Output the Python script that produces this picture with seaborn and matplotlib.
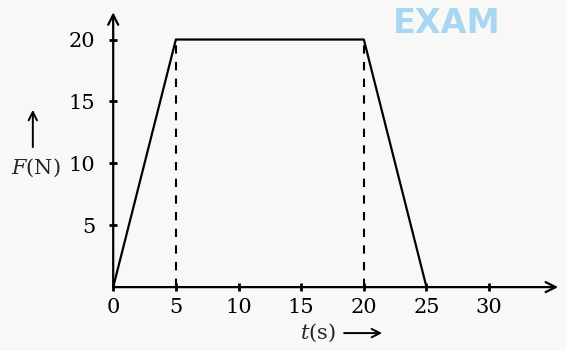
import matplotlib
matplotlib.use('Agg')
import matplotlib.pyplot as plt
import seaborn as sns
import pandas as pd

# force-time curve (trapezoid)
time_s = [0, 5, 20, 25]
force_n = [0, 20, 20, 0]
dash_t = [5, 20]
x_ticks = [0, 5, 10, 15, 20, 25, 30]
y_ticks = [5, 10, 15, 20]

sns.set_style('white')
plt.rcParams['font.family'] = ['DejaVu Serif']
plt.rcParams['mathtext.fontset'] = 'dejavuserif'

df = pd.DataFrame({'t': time_s, 'F': force_n})

fig = plt.figure(figsize=(5.66, 3.51), dpi=100, facecolor='#f8f8f7')
ax = fig.add_axes([0.2, 0.182, 0.786, 0.783])
ax.set_facecolor('none')

sns.lineplot(data=df, x='t', y='F', sort=False, color='black', lw=1.6, ax=ax)
ax.vlines(dash_t, 0, max(force_n), colors='black', linestyles=(0, (4, 4)), lw=1.5)

ax.set_xlim(0, 35.5)
ax.set_ylim(0, 22.2)
ax.set_xticks(x_ticks)
ax.set_yticks(y_ticks)
ax.set_xlabel('')
ax.set_ylabel('')
ax.tick_params(axis='both', bottom=True, left=True, direction='inout', length=6,
               width=2, labelsize=15, colors='black')
ax.tick_params(axis='x', pad=5)
ax.tick_params(axis='y', pad=10)

for s in ax.spines.values():
    s.set_visible(False)

# axes with open arrowheads
arrow = dict(arrowstyle='->', lw=1.6, color='black', mutation_scale=18, shrinkA=0, shrinkB=0)
ax.annotate('', xy=(35.5, 0), xytext=(0, 0), arrowprops=arrow, annotation_clip=False)
ax.annotate('', xy=(0, 22.2), xytext=(0, 0), arrowprops=arrow, annotation_clip=False)

# axis labels
fig.text(0.064, 0.521, '$F$(N)', fontsize=15, ha='center', va='center')
fig.patches.append(matplotlib.patches.FancyArrowPatch(
    (0.058, 0.573), (0.058, 0.695), transform=fig.transFigure,
    arrowstyle='->', lw=1.4, color='black', mutation_scale=15))
fig.text(0.530, 0.051, '$t$(s)', fontsize=15, ha='left', va='center')
fig.patches.append(matplotlib.patches.FancyArrowPatch(
    (0.603, 0.051), (0.680, 0.051), transform=fig.transFigure,
    arrowstyle='->', lw=1.4, color='black', mutation_scale=15))

# watermark
fig.text(0.79, 0.906, 'EXAM', fontsize=24, fontweight='bold', family='DejaVu Sans',
         color='#a9d7f3', ha='center', va='baseline', zorder=0)

fig.savefig('out.png', dpi=100, facecolor=fig.get_facecolor())
